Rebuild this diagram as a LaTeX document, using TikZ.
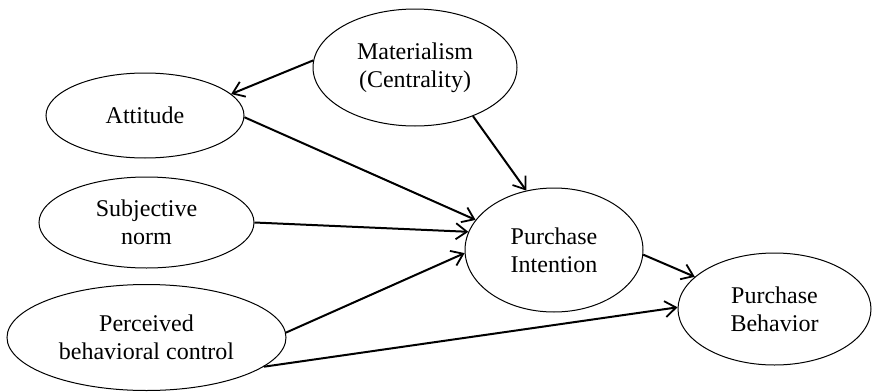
\documentclass[tikz,border=0pt]{standalone}
\usepackage{fontspec}
\setmainfont{Liberation Serif}
\usepackage{tikz}
\usetikzlibrary{arrows.meta,shapes.geometric}
\tikzset{
  construct/.style={ellipse, draw, line width=0.5pt, inner sep=0pt, align=center,
                    font=\fontsize{12}{14}\selectfont},
  path/.style={-{Straight Barb[length=5.5pt,width=8pt,line width=0.9pt]}, line width=1pt},
}

\begin{document}
\begin{tikzpicture}[x=0.5pt,y=-0.5pt]
  \useasboundingbox (0,0) rectangle (873,391);

  \node[construct, minimum width=102pt, minimum height=58.5pt] (mat) at (415,67.5) {Materialism\\(Centrality)};
  \node[construct, minimum width=99pt, minimum height=42.5pt] (att) at (145,115.5) {Attitude};
  \node[construct, minimum width=107.5pt, minimum height=45.5pt] (sn) at (146.5,222.5) {Subjective\\norm};
  \node[construct, minimum width=139.5pt, minimum height=53pt] (pbc) at (146.5,337.5) {Perceived\\behavioral control};
  \node[construct, minimum width=89pt, minimum height=62pt] (pi) at (554,250) {Purchase\\Intention};
  \node[construct, minimum width=96.5pt, minimum height=56pt] (pb) at (774.5,309) {Purchase\\Behavior};

  \draw[path] (mat.176) -- (att.14);
  \draw[path] (mat.320) -- (pi.115);
  \draw[path] (att.359) -- (pi.159);
  \draw[path] (sn.0) -- (pi.168);
  \draw[path] (pbc.2) -- (pi.182);
  \draw[path] (pbc.346) -- (pb.179);
  \draw[path] (pi.357) -- (pb.158);
\end{tikzpicture}
\end{document}
